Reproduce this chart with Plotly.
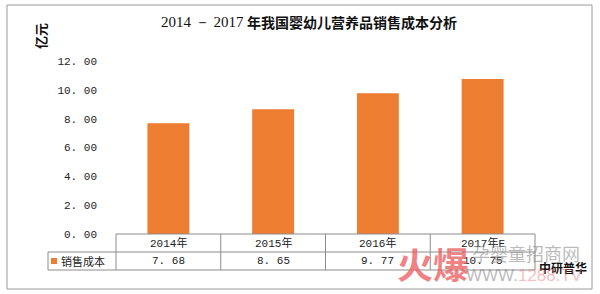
import plotly.graph_objects as go

categories = ["2014年", "2015年", "2016年", "2017年E"]
values = [7.68, 8.65, 9.77, 10.75]
value_labels = ["7. 68", "8. 65", "9. 77", "10. 75"]
series_name = "销售成本"
y_ticks = [0, 2, 4, 6, 8, 10, 12]
y_tick_labels = ["0. 00", "2. 00", "4. 00", "6. 00", "8. 00", "10. 00", "12. 00"]
title_num = "2014 － 2017"
title_cn = "年我国婴幼儿营养品销售成本分析"
unit = "亿元"
source = "中研普华"

W, H = 600, 294
L, R = 116, 535          # plot area in pixels
T, B = 61, 234
ORANGE = "#ED7D31"
LINE = "#8c8c8c"

def px(x):
    return (x - L) / (R - L)

def py(y):
    return (B - y) / (B - T)

fig = go.Figure()
fig.add_trace(go.Bar(x=list(range(len(categories))), y=values, width=0.4,
                     marker=dict(color=ORANGE, line=dict(width=0)),
                     name=series_name, showlegend=False, hoverinfo="skip"))

shapes = []
annotations = []

def ann(x, y, text, font, xanchor="center", xref="paper", **kw):
    annotations.append(dict(x=x, y=y, xref=xref, yref="paper", text=text,
                            showarrow=False, xanchor=xanchor, yanchor="middle",
                            font=font, **kw))

# outer frame
shapes.append(dict(type="rect", xref="paper", yref="paper",
                   x0=px(7), x1=px(592), y0=py(289), y1=py(5),
                   line=dict(color="#9a9a9a", width=1)))

# table
row_top, row_mid, row_bot = 234, 252, 270
n = len(categories)
shapes.append(dict(type="line", xref="paper", yref="paper", x0=0, x1=1,
                   y0=py(row_top), y1=py(row_top), line=dict(color=LINE, width=1)))
shapes.append(dict(type="line", xref="paper", yref="paper", x0=px(48), x1=1,
                   y0=py(row_mid), y1=py(row_mid), line=dict(color=LINE, width=1)))
shapes.append(dict(type="line", xref="paper", yref="paper", x0=px(48), x1=1,
                   y0=py(row_bot), y1=py(row_bot), line=dict(color=LINE, width=1)))
for i in range(n + 1):
    shapes.append(dict(type="line", xref="paper", yref="paper",
                       x0=i / n, x1=i / n, y0=py(row_top), y1=py(row_bot),
                       line=dict(color=LINE, width=1)))
shapes.append(dict(type="line", xref="paper", yref="paper", x0=px(48), x1=px(48),
                   y0=py(row_mid), y1=py(row_bot), line=dict(color=LINE, width=1)))
# legend square
shapes.append(dict(type="rect", xref="paper", yref="paper", x0=px(51), x1=px(57),
                   y0=py(264), y1=py(258), fillcolor=ORANGE, line=dict(width=0)))

tbl_font = dict(family="Liberation Mono, Noto Sans CJK SC", size=11, color="#222")
for i, (c, v) in enumerate(zip(categories, value_labels)):
    ann(i, py((row_top + row_mid) / 2), c, tbl_font, xref="x")
    ann(i, py((row_mid + row_bot) / 2), v, tbl_font, xref="x")
ann(px(59), py(261), series_name,
    dict(family="Noto Sans CJK SC", size=11, color="#222"), xanchor="left")

# title
ann(px(246), py(22), title_num,
    dict(family="Liberation Serif", size=15, color="#111"), xanchor="right")
ann(px(245), py(22), "<b>" + title_cn + "</b>",
    dict(family="Noto Sans CJK SC", size=14, color="#111"), xanchor="left")
# unit
ann(px(40), py(36), "<b>" + unit + "</b>",
    dict(family="Noto Sans CJK SC", size=13, color="#111"), textangle=-90)
# source
ann(px(537), py(267), "<b>" + source + "</b>",
    dict(family="Noto Sans CJK SC", size=12, color="#111"), xanchor="left")
# watermark
ann(px(433), py(263), "<b>火爆</b>",
    dict(family="Noto Sans CJK SC", size=36, color="rgba(236,95,100,0.8)"))
ann(px(526), py(253), "孕婴童招商网",
    dict(family="Noto Sans CJK SC", size=18, color="rgba(140,140,140,0.6)"))
ann(px(524), py(275),
    "WWW.<span style='color:rgba(236,110,115,0.75)'>1288.TV</span>",
    dict(family="Liberation Sans", size=17, color="rgba(140,140,140,0.6)"))

fig.update_layout(
    width=W, height=H,
    margin=dict(l=L, r=W - R, t=T, b=H - B, pad=0),
    paper_bgcolor="white", plot_bgcolor="white",
    xaxis=dict(range=[-0.5, n - 0.5], showticklabels=False, showgrid=False,
               zeroline=False, showline=False, ticks="", fixedrange=True),
    yaxis=dict(range=[0, 12], tickvals=y_ticks, ticktext=y_tick_labels,
               showgrid=False, zeroline=False, showline=False, ticks="",
               ticklabelstandoff=18,
               tickfont=dict(family="Liberation Mono", size=11, color="#222"),
               fixedrange=True),
    shapes=shapes, annotations=annotations,
)

fig.write_html("out.html")
